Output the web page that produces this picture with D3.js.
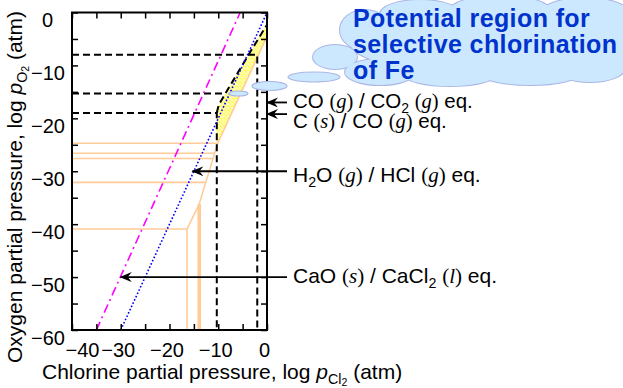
<!DOCTYPE html>
<html>
<head>
<meta charset="utf-8">
<script src="https://cdn.jsdelivr.net/npm/d3@7"></script>
<style>
body { margin: 0; background: #fff; }
svg { display: block; font-family: "Liberation Sans", Arial, sans-serif; }
</style>
</head>
<body>
<svg id="chart" width="623" height="388"></svg>
<script>
// axis ranges and ticks (log p in atm)
var xDomain = [-40, 0],
  yDomain = [0, -60],
  xTicks = d3.range(-40, 1, 5),
  yTicks = d3.range(0, -61, -5);

// equilibrium lines, [log pCl2, log pO2]
var caoLine = [[-35, -60], [-5.5, 0]];
var h2oLine = [[-30, -60], [0, 0]];
var carbonEdge = [[-10.3, -19], [-10.1, -18.2], [-9.7, -17.2], [-9.1, -16.2], [-8.2, -14.8], [-6, -11.4], [-3, -6.8], [0, -2.3]];
var dashedLines = [
  [[-40, -8], [-2, -8], [-2, -60]],
  [[-40, -15.3], [-8.8, -15.3]],
  [[-40, -19], [-10.3, -19], [-10.3, -60]]
];
var orangeThin = [
  [[-40, -24.7], [-10.1, -24.7], [0, -4.5]],
  [[-40, -26.6], [-10.73, -26.6]],
  [[-40, -27.6], [-11.07, -27.6]],
  [[-10.1, -24.7], [-12.57, -32.1], [-13.9, -36.2]],
  [[-40, -32.1], [-12.57, -32.1]],
  [[-13.9, -36.2], [-16.4, -40.9], [-40, -40.9]],
  [[-16.4, -40.9], [-16.4, -60]]
];
var orangeThick = [[-13.9, -36.2], [-13.9, -60]];
var feRegion = carbonEdge.concat([[0, -4.5], [-10.1, -24.7], [-10.3, -24.7]]);

// arrow tips for the equilibrium labels
var coTip = [0, -17], cTip = [0, -19.2], h2oTip = [-15.3, -30], caoTip = [-30, -50];

var svg = d3.select("#chart");
var x = d3.scaleLinear().domain(xDomain).range([72, 267]),
  y = d3.scaleLinear().domain(yDomain).range([12.5, 330]);
var line = d3.line().x(function (d) { return x(d[0]) }).y(function (d) { return y(d[1]) });

var defs = svg.append("defs");
defs.append("clipPath").attr("id", "plotclip").append("rect")
  .attr("x", x(-40)).attr("y", y(0)).attr("width", x(0) - x(-40)).attr("height", y(-60) - y(0));
var pat = defs.append("pattern").attr("id", "hatch").attr("width", 4).attr("height", 4).attr("patternUnits", "userSpaceOnUse");
pat.append("rect").attr("width", 4).attr("height", 4).attr("fill", "#ffff30");
pat.append("path").attr("d", "M0,0L4,4M4,0L0,4").attr("stroke", "#fffbdc").attr("stroke-width", 1.1);
defs.append("marker").attr("id", "arr").attr("viewBox", "0 0 12 10").attr("refX", 11).attr("refY", 5)
  .attr("markerWidth", 12).attr("markerHeight", 10).attr("markerUnits", "userSpaceOnUse").attr("orient", "auto")
  .append("path").attr("d", "M0,0L12,5L0,10L4,5Z").attr("fill", "#000");

var plot = svg.append("g").attr("clip-path", "url(#plotclip)");
plot.append("path").datum(feRegion).attr("d", line).attr("fill", "url(#hatch)");
plot.selectAll(".orange").data(orangeThin).enter().append("path")
  .attr("d", line).attr("fill", "none").attr("stroke", "#ffcc99").attr("stroke-width", 1.6);
plot.append("path").datum(orangeThick).attr("d", line).attr("fill", "none").attr("stroke", "#ffcc99").attr("stroke-width", 3.6);
plot.selectAll(".dash").data(dashedLines).enter().append("path")
  .attr("d", line).attr("fill", "none").attr("stroke", "#000").attr("stroke-width", 2).attr("stroke-dasharray", "7,4");
plot.append("path").datum(carbonEdge).attr("d", line.curve(d3.curveMonotoneX)).attr("fill", "none")
  .attr("stroke", "#000").attr("stroke-width", 2).attr("stroke-dasharray", "7,4");
line.curve(d3.curveLinear);
plot.append("path").datum(caoLine).attr("d", line).attr("fill", "none")
  .attr("stroke", "#ff00ff").attr("stroke-width", 1.6).attr("stroke-dasharray", "9,4,2,4");
plot.append("path").datum(h2oLine).attr("d", line).attr("fill", "none")
  .attr("stroke", "#0000ff").attr("stroke-width", 1.6).attr("stroke-dasharray", "1.6,2");

// axes
var fmt = d3.format("");
function tickStyle(g) {
  g.select(".domain").remove();
  g.attr("font-size", 20).attr("font-family", null);
  g.selectAll("line").attr("stroke-width", 1.5);
  g.selectAll("text").attr("fill", "#000");
}
svg.append("g").attr("transform", "translate(0," + y(-60) + ")")
  .call(d3.axisBottom(x).tickValues(xTicks).tickSize(-6).tickPadding(13)
    .tickFormat(function (d) { return d % 10 === 0 ? fmt(d) : "" }))
  .call(tickStyle)
  .selectAll("text").attr("dx", function (d) { return d === -40 ? 10 : -3 });
svg.append("g").attr("transform", "translate(" + x(-40) + ",0)")
  .call(d3.axisLeft(y).tickValues(yTicks).tickSize(-6).tickPadding(7)
    .tickFormat(function (d) { return d % 10 === 0 ? fmt(d) : "" }))
  .call(tickStyle)
  .selectAll("text").attr("dy", "0.72em").attr("x", function (d) { return d === 0 ? -19 : -7 });
svg.append("g").attr("transform", "translate(0," + y(0) + ")")
  .call(d3.axisTop(x).tickValues(xTicks).tickSize(-6).tickFormat(""))
  .call(tickStyle);
svg.append("g").attr("transform", "translate(" + x(0) + ",0)")
  .call(d3.axisRight(y).tickValues(yTicks).tickSize(-6).tickFormat(""))
  .call(tickStyle);
svg.append("rect").attr("x", x(-40)).attr("y", y(0)).attr("width", x(0) - x(-40)).attr("height", y(-60) - y(0))
  .attr("fill", "none").attr("stroke", "#000").attr("stroke-width", 2);

// rich text helper: [text, kind]
function rich(g, px, py, parts, size, rotate) {
  var t = g.append("text").attr("x", px).attr("y", py).attr("font-size", size);
  if (rotate) t.attr("transform", "rotate(-90," + px + "," + py + ")");
  var shift = 0;
  parts.forEach(function (p) {
    var s = t.append("tspan").text(p[0]);
    var k = p[1] || "", want = 0;
    if (k.indexOf("serif") >= 0) s.attr("font-family", "'Liberation Serif','Times New Roman',serif");
    if (k.indexOf("it") >= 0) s.attr("font-style", "italic");
    if (k.indexOf("sub2") >= 0) { s.attr("font-size", size * 0.5); want = size * 0.34 }
    else if (k.indexOf("sub") >= 0) { s.attr("font-size", size * 0.68); want = size * 0.24 }
    if (want !== shift) { s.attr("dy", want - shift); shift = want }
  });
  return t;
}

var titles = svg.append("g").attr("fill", "#000");
rich(titles, 42, 379, [["Chlorine partial pressure, log "], ["p", "it"], ["Cl", "sub"], ["2", "sub2"], [" (atm)"]], 21);
rich(titles, 22, 363, [["Oxygen partial pressure, log "], ["p", "it"], ["O", "sub"], ["2", "sub2"], [" (atm)"]], 21, true);

// cloud
var cloudLobes = [[335, 57, 22, 12], [365, 30, 25, 20], [420, 14, 40, 14], [500, 10, 50, 14], [585, 14, 45, 16],
  [615, 45, 25, 25], [380, 72, 35, 13], [450, 75, 45, 11], [530, 73, 50, 12], [590, 68, 35, 14], [480, 42, 130, 32]];
var bubbles = [[314, 77, 26, 5], [269.5, 86, 17.5, 4.5], [238.5, 93.5, 9.5, 2.5]];
var cloud = svg.append("g");
[true, false].forEach(function (outline) {
  cloud.append("g").selectAll("ellipse").data(cloudLobes).enter().append("ellipse")
    .attr("cx", function (d) { return d[0] }).attr("cy", function (d) { return d[1] })
    .attr("rx", function (d) { return d[2] }).attr("ry", function (d) { return d[3] })
    .attr("fill", "#cce8ff").attr("stroke", outline ? "#aab6e6" : "none").attr("stroke-width", 2);
});
cloud.selectAll(".bub").data(bubbles).enter().append("ellipse")
  .attr("cx", function (d) { return d[0] }).attr("cy", function (d) { return d[1] })
  .attr("rx", function (d) { return d[2] }).attr("ry", function (d) { return d[3] })
  .attr("fill", "#cce8ff").attr("stroke", "#aab6e6").attr("stroke-width", 1.2);
var cloudText = ["Potential region for", "selective chlorination", "of Fe"];
cloud.selectAll(".ct").data(cloudText).enter().append("text")
  .attr("x", 353).attr("y", function (d, i) { return 27 + i * 26 })
  .attr("font-size", 25).attr("font-weight", "bold").attr("letter-spacing", 0.4)
  .attr("fill", "#0033cc").text(function (d) { return d });

// labels with arrows
var labX = 293;
var notes = svg.append("g").attr("fill", "#000");
[[coTip, 108], [cTip, 128], [h2oTip, 182], [caoTip, 283]].forEach(function (a) {
  notes.append("line").attr("x1", labX - 6).attr("y1", y(a[0][1])).attr("x2", x(a[0][0])).attr("y2", y(a[0][1]))
    .attr("stroke", "#000").attr("stroke-width", 1.8).attr("marker-end", "url(#arr)");
});
rich(notes, labX, 108, [["CO "], ["(", "serif"], ["g", "serif it"], [")", "serif"], [" / CO"], ["2", "sub"], [" "],
  ["(", "serif"], ["g", "serif it"], [")", "serif"], [" eq."]], 20.5);
rich(notes, labX, 128, [["C "], ["(", "serif"], ["s", "serif it"], [")", "serif"], [" / CO "],
  ["(", "serif"], ["g", "serif it"], [")", "serif"], [" eq."]], 20.5);
rich(notes, labX, 182, [["H"], ["2", "sub"], ["O "], ["(", "serif"], ["g", "serif it"], [")", "serif"], [" / HCl "],
  ["(", "serif"], ["g", "serif it"], [")", "serif"], [" eq."]], 21);
rich(notes, labX, 283, [["CaO "], ["(", "serif"], ["s", "serif it"], [")", "serif"], [" / CaCl"], ["2", "sub"], [" "],
  ["(", "serif"], ["l", "serif it"], [")", "serif"], [" eq."]], 21);
</script>
</body>
</html>
